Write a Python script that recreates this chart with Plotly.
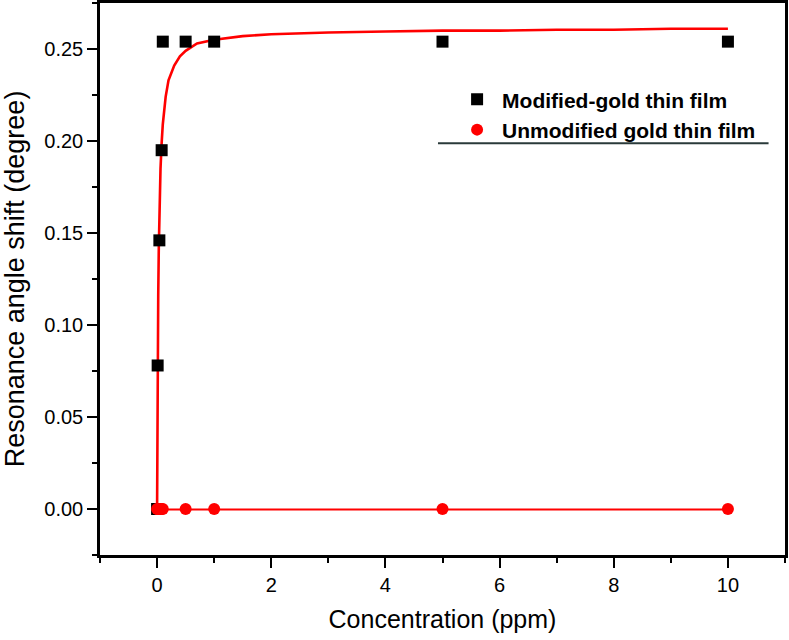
import plotly.graph_objects as go

# Measured data
conc = [0, 0.01, 0.04, 0.08, 0.1, 0.5, 1, 5, 10]
modified = [0, 0.078, 0.146, 0.195, 0.254, 0.254, 0.254, 0.254, 0.254]
unmodified = [0, 0, 0, 0, 0, 0, 0, 0, 0]

# Fitted curves
fit_mod_x = [0, 0.003, 0.006, 0.01, 0.02, 0.03, 0.04, 0.06, 0.08, 0.1, 0.15, 0.2,
             0.3, 0.4, 0.5, 0.7, 1, 1.5, 2, 3, 4, 5, 6, 7, 8, 9, 10]
fit_mod_y = [0, 0.028, 0.050, 0.075, 0.116, 0.142, 0.161, 0.185, 0.199, 0.209, 0.224, 0.233,
             0.241, 0.246, 0.249, 0.253, 0.255, 0.257, 0.258, 0.259, 0.2595, 0.260, 0.260,
             0.2605, 0.2605, 0.261, 0.261]
fit_unmod_x = [0, 10]
fit_unmod_y = [-0.0003, -0.0003]

FONT = "Liberation Sans, Arial, sans-serif"

fig = go.Figure()
fig.add_trace(go.Scatter(x=fit_mod_x, y=fit_mod_y, mode="lines",
                         line=dict(color="#ff0000", width=2.6), showlegend=False,
                         hoverinfo="skip"))
fig.add_trace(go.Scatter(x=fit_unmod_x, y=fit_unmod_y, mode="lines",
                         line=dict(color="#ff0000", width=2), showlegend=False,
                         hoverinfo="skip"))
fig.add_trace(go.Scatter(x=conc, y=modified, mode="markers", name="Modified-gold thin film",
                         marker=dict(symbol="square", size=12, color="black")))
fig.add_trace(go.Scatter(x=conc, y=unmodified, mode="markers", name="Unmodified gold thin film",
                         marker=dict(symbol="circle", size=12, color="#ff0000")))

axis_common = dict(
    showline=True, linecolor="black", linewidth=2.5, mirror=True,
    ticks="outside", ticklen=10, tickwidth=2, tickcolor="black",
    showgrid=False, zeroline=False, automargin=False,
    tickfont=dict(family=FONT, size=20, color="black"),
)

fig.update_xaxes(
    range=[-1, 11], tick0=0, dtick=2,
    minor=dict(dtick=1, ticks="outside", ticklen=5, tickwidth=2, tickcolor="black"),
    title=dict(text="Concentration (ppm)", font=dict(family=FONT, size=25, color="black"),
               standoff=16),
    **axis_common,
)
fig.update_yaxes(
    range=[-0.025, 0.275], tick0=0, dtick=0.05, tickformat=".2f",
    minor=dict(dtick=0.025, ticks="outside", ticklen=5, tickwidth=2, tickcolor="black"),
    title=dict(text="Resonance angle shift (degree)", font=dict(family=FONT, size=27, color="black"),
               standoff=14),
    **axis_common,
)

fig.update_layout(
    width=789, height=640,
    margin=dict(l=100, r=4, t=3, b=85),
    plot_bgcolor="white", paper_bgcolor="white",
    font=dict(family=FONT, color="black"),
    legend=dict(x=0.514, y=0.862, xanchor="left", yanchor="top",
                bgcolor="rgba(0,0,0,0)", borderwidth=0, itemwidth=40,
                font=dict(family=FONT, size=21, color="black", weight="bold")),
    shapes=[dict(type="line", xref="paper", yref="paper", x0=0.4934, x1=0.976,
                 y0=0.746, y1=0.746, line=dict(color="#2a3a3a", width=2))],
)

fig.write_html("out.html", config={"displayModeBar": False},
               post_script="document.body.style.margin='0';")
